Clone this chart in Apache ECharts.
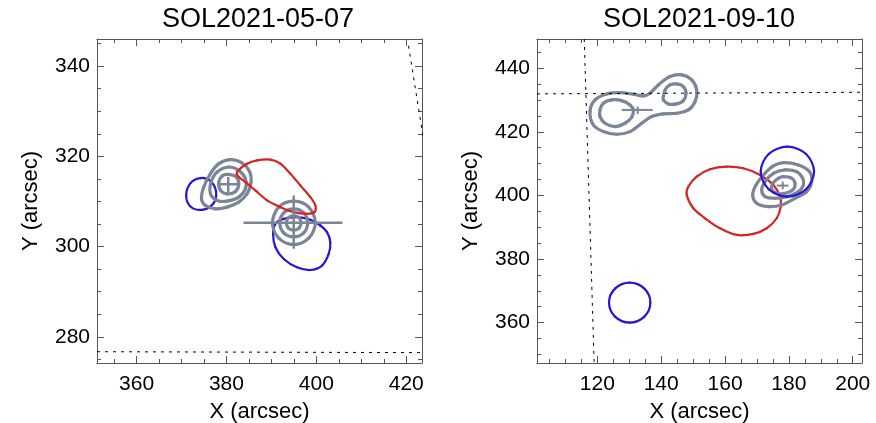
<!DOCTYPE html>
<html><head><meta charset="utf-8">
<script src="https://cdn.jsdelivr.net/npm/echarts@6/dist/echarts.min.js"></script>
<style>html,body{margin:0;padding:0;background:#fff}#c{width:876px;height:423px}</style>
</head><body><div id="c"></div><script>
// ---------- data ----------
const titles = ['SOL2021-05-07', 'SOL2021-09-10'];
const leftXRange = [351.2, 423.5];
const leftYRange = [274.2, 346.0];
const rightXRange = [101.1, 202.9];
const rightYRange = [347.3, 449.2];

const leftXTicks = [360, 380, 400, 420];
const leftYTicks = [280, 300, 320, 340];
const rightXTicks = [120, 140, 160, 180, 200];
const rightYTicks = [360, 380, 400, 420, 440];
const leftXMinor = [355,360,365,370,375,380,385,390,395,400,405,410,415,420];
const leftYMinor = [275,280,285,290,295,300,305,310,315,320,325,330,335,340,345];
const rightXMinor = [105,110,115,120,125,130,135,140,145,150,155,160,165,170,175,180,185,190,195,200];
const rightYMinor = [350,355,360,365,370,375,380,385,390,395,400,405,410,415,420,425,430,435,440,445];

// left panel (SOL2021-05-07)
const leftGrayA1 = [[380.89,319.26],[383.48,318.52],[385.19,316.52],[385.48,314.30],[384.59,311.70],[382.74,309.85],[380.15,308.74],[377.56,308.37],[375.33,309.11],[374.44,310.59],[374.96,313.19],[376.44,316.15],[378.30,318.37]];
const leftGrayA2 = [[380.52,317.63],[382.74,316.89],[384.22,315.04],[384.22,312.81],[382.74,310.96],[380.15,310.07],[377.93,310.22],[376.44,311.70],[376.59,314.30],[377.93,316.52]];
const leftGrayA3 = [[380.15,316.00],[382.00,315.56],[382.74,313.93],[382.00,312.22],[380.15,311.70],[378.67,312.44],[378.30,314.30],[379.04,315.63]];
const leftGrayB1 = [[394.96,310.07],[398.30,308.74],[399.78,305.26],[398.30,301.85],[394.96,300.44],[391.63,301.85],[390.22,305.26],[391.63,308.74]];
const leftGrayB2 = [[394.96,308.37],[397.19,307.48],[398.07,305.26],[397.19,303.04],[394.96,302.15],[392.74,303.04],[391.85,305.26],[392.74,307.48]];
const leftGrayB3 = [[394.96,306.89],[396.15,306.44],[396.59,305.26],[396.15,304.07],[394.96,303.63],[393.78,304.07],[393.33,305.26],[393.78,306.44]];
const leftRed = [[382.37,316.52],[384.59,318.37],[386.81,319.11],[389.78,319.26],[392.00,318.37],[394.22,316.15],[396.44,313.56],[398.67,310.96],[399.78,309.11],[399.56,307.63],[397.93,307.26],[394.96,307.63],[392.00,308.74],[389.04,310.22],[386.44,312.44],[384.22,314.30],[382.74,315.41]];
const leftBlue1 = [[374.22,315.19],[376.44,314.52],[377.70,312.07],[377.04,309.48],[374.59,308.15],[372.00,308.89],[371.04,311.33],[372.00,314.07]];
const leftBlue2 = [[392.74,306.15],[395.70,306.52],[398.67,305.93],[400.89,304.67],[402.37,303.19],[403.11,300.96],[402.74,298.37],[401.26,295.78],[398.67,294.81],[395.70,295.41],[392.74,297.26],[390.89,299.85],[390.37,302.81],[390.89,305.04]];
const leftCrossA_H = [[378.2,313.8],[382.7,313.8]];
const leftCrossA_V = [[380.4,312.1],[380.4,315.4]];
const leftCrossB_H = [[383.8,305.3],[405.8,305.3]];
const leftCrossB_V = [[394.96,299.5],[394.96,311.3]];
const leftDotH = [[351.2,276.7],[423.5,276.5]];
const leftDotD = [[420.5,344.5],[424.6,319.0]];

// right panel (SOL2021-09-10)
const rightGrayA1 = [[117.70,426.37],[119.27,430.04],[122.92,431.93],[127.10,432.35],[131.28,431.82],[134.41,431.30],[136.50,432.14],[139.11,434.76],[142.77,437.38],[146.42,437.90],[149.56,436.33],[151.12,433.18],[150.60,429.51],[148.51,426.89],[144.86,425.85],[140.68,425.64],[137.02,424.80],[133.89,422.70],[130.23,420.08],[126.06,419.24],[121.88,420.08],[118.75,422.18]];
const rightGrayA2 = [[120.84,426.89],[121.88,428.99],[124.49,430.04],[127.62,429.83],[130.23,428.47],[131.28,426.89],[130.76,424.59],[128.67,422.70],[125.54,421.65],[122.40,422.70],[120.84,424.80]];
const rightGrayA3 = [[140.68,431.09],[141.20,433.18],[142.77,434.76],[144.86,435.07],[146.95,434.23],[147.78,432.14],[146.95,429.83],[144.86,428.78],[142.25,428.78],[140.68,430.04]];
const rightGrayB1 = [[178.28,410.33],[182.98,409.59],[186.42,407.50],[187.15,404.35],[185.59,401.21],[181.93,399.11],[177.75,397.02],[173.58,396.49],[169.92,397.54],[168.67,400.16],[169.71,403.30],[172.53,406.97],[175.14,409.28]];
const rightGrayB2 = [[178.80,408.02],[182.45,407.50],[184.33,405.40],[184.54,403.30],[182.98,401.21],[179.32,399.63],[175.67,399.11],[172.53,399.63],[171.49,401.73],[172.53,404.35],[175.14,406.97]];
const rightGrayB3 = [[178.28,405.92],[180.89,405.40],[181.93,403.62],[181.20,401.73],[178.80,400.68],[176.19,400.68],[174.62,401.94],[175.14,404.04],[176.71,405.40]];
const rightRed = [[148.51,402.78],[151.12,405.92],[155.30,408.23],[160.52,409.07],[165.74,408.54],[170.97,406.45],[175.14,403.30],[177.23,399.63],[177.44,396.49],[176.19,392.82],[173.05,389.67],[168.88,387.89],[163.66,387.57],[158.43,389.67],[153.73,392.82],[150.08,395.96],[148.00,400.16]];
const rightBlue1 = [[179.53,415.36],[185.38,413.05],[187.89,407.50],[185.38,401.94],[179.53,399.63],[173.68,401.94],[171.17,407.50],[173.68,413.05]];
const rightBlue2 = [[130.13,372.58],[134.73,370.69],[136.61,366.29],[134.73,361.89],[130.13,360.00],[125.54,361.89],[123.66,366.29],[125.54,370.69]];
const rightCrossA_H = [[127.62,426.89],[137.34,426.89]];
const rightCrossA_V = [[132.64,427.94],[132.64,425.64]];
const rightCrossB_H = [[176.19,403.09],[179.84,403.09]];
const rightCrossB_V = [[178.07,404.35],[178.07,401.94]];
const rightDotV = [[115.9,449.2],[119.0,347.3]];
const rightDotH = [[101.1,431.93],[202.9,432.45]];

// ---------- styling ----------
const FONT = 'Liberation Sans, Arial, Helvetica, sans-serif';
const GRAY = '#7a8595', RED = '#d42323', BLUE = '#2a14d6', FRAME = '#555';

const grids = [
  {left: 97, top: 39, width: 325, height: 324, containLabel: false, outerBoundsMode: 'none'},
  {left: 537, top: 39, width: 325, height: 324, containLabel: false, outerBoundsMode: 'none'}
];

const xAxes = [], yAxes = [];
function addAxes(gi, xr, yr, xMaj, xMin, yMaj, yMin) {
  const base = {gridIndex: gi, type: 'value', splitLine: {show: false}};
  const line = {show: true, onZero: false, lineStyle: {color: FRAME, width: 1}};
  const xi = xAxes.length;
  xAxes.push(Object.assign({}, base, {min: xr[0], max: xr[1], position: 'bottom', axisLine: line,
    axisTick: {show: true, inside: true, length: 7, customValues: xMaj, lineStyle: {color: FRAME}},
    axisLabel: {show: true, customValues: xMaj, color: '#000', fontSize: 21, fontFamily: FONT, margin: 11},
    name: 'X (arcsec)', nameLocation: 'middle', nameGap: 38,
    nameTextStyle: {fontSize: 22, color: '#000', fontFamily: FONT}}));
  xAxes.push(Object.assign({}, base, {min: xr[0], max: xr[1], position: 'bottom', axisLine: {show: false},
    axisTick: {show: true, inside: true, length: 4, customValues: xMin, lineStyle: {color: FRAME}},
    axisLabel: {show: false}}));
  xAxes.push(Object.assign({}, base, {min: xr[0], max: xr[1], position: 'top', axisLine: line,
    axisTick: {show: true, inside: true, length: 7, customValues: xMaj, lineStyle: {color: FRAME}},
    axisLabel: {show: false}}));
  xAxes.push(Object.assign({}, base, {min: xr[0], max: xr[1], position: 'top', axisLine: {show: false},
    axisTick: {show: true, inside: true, length: 4, customValues: xMin, lineStyle: {color: FRAME}},
    axisLabel: {show: false}}));
  const yi = yAxes.length;
  yAxes.push(Object.assign({}, base, {min: yr[0], max: yr[1], position: 'left', axisLine: line,
    axisTick: {show: true, inside: true, length: 7, customValues: yMaj, lineStyle: {color: FRAME}},
    axisLabel: {show: true, customValues: yMaj, color: '#000', fontSize: 21, fontFamily: FONT, margin: 7},
    name: 'Y (arcsec)', nameLocation: 'middle', nameGap: 55,
    nameTextStyle: {fontSize: 22, color: '#000', fontFamily: FONT}}));
  yAxes.push(Object.assign({}, base, {min: yr[0], max: yr[1], position: 'left', axisLine: {show: false},
    axisTick: {show: true, inside: true, length: 4, customValues: yMin, lineStyle: {color: FRAME}},
    axisLabel: {show: false}}));
  yAxes.push(Object.assign({}, base, {min: yr[0], max: yr[1], position: 'right', axisLine: line,
    axisTick: {show: true, inside: true, length: 7, customValues: yMaj, lineStyle: {color: FRAME}},
    axisLabel: {show: false}}));
  yAxes.push(Object.assign({}, base, {min: yr[0], max: yr[1], position: 'right', axisLine: {show: false},
    axisTick: {show: true, inside: true, length: 4, customValues: yMin, lineStyle: {color: FRAME}},
    axisLabel: {show: false}}));
  return [xi, yi];
}
const [lx, ly] = addAxes(0, leftXRange, leftYRange, leftXTicks, leftXMinor, leftYTicks, leftYMinor);
const [rx, ry] = addAxes(1, rightXRange, rightYRange, rightXTicks, rightXMinor, rightYTicks, rightYMinor);

const series = [];
// closed contour drawn as a smooth loop through the traced points (pixel positions from api.coord)
function contour(pts, xi, yi, color, w) {
  series.push({
    type: 'custom', xAxisIndex: xi, yAxisIndex: yi, silent: true, animation: false, clip: true,
    data: [pts[0]],
    renderItem: function (params, api) {
      const p = pts.map(function (d) { return api.coord(d); });
      const n = p.length, children = [];
      for (let i = 0; i < n; i++) {
        const p0 = p[(i - 1 + n) % n], p1 = p[i], p2 = p[(i + 1) % n], p3 = p[(i + 2) % n];
        children.push({
          type: 'bezierCurve',
          shape: {
            x1: p1[0], y1: p1[1], x2: p2[0], y2: p2[1],
            cpx1: p1[0] + (p2[0] - p0[0]) / 6, cpy1: p1[1] + (p2[1] - p0[1]) / 6,
            cpx2: p2[0] - (p3[0] - p1[0]) / 6, cpy2: p2[1] - (p3[1] - p1[1]) / 6
          },
          style: {fill: 'none', stroke: color, lineWidth: w, lineCap: 'round'}
        });
      }
      return {type: 'group', children: children};
    }
  });
}
function seg(pts, xi, yi, color, w, dash) {
  series.push({
    type: 'line', xAxisIndex: xi, yAxisIndex: yi, data: pts, showSymbol: false, symbol: 'none',
    silent: true, animation: false, clip: true,
    lineStyle: {color: color, width: w, type: dash || 'solid'}
  });
}

// left panel
seg(leftDotH, lx, ly, '#000', 1, [3, 5]);
seg(leftDotD, lx, ly, '#000', 1, [3, 5]);
contour(leftBlue1, lx, ly, BLUE, 2.2);
contour(leftBlue2, lx, ly, BLUE, 2.2);
[leftGrayA1, leftGrayA2, leftGrayA3, leftGrayB1, leftGrayB2, leftGrayB3].forEach(function (c) { contour(c, lx, ly, GRAY, 3.2); });
seg(leftCrossA_H, lx, ly, GRAY, 2.5);
seg(leftCrossA_V, lx, ly, GRAY, 2.5);
seg(leftCrossB_H, lx, ly, GRAY, 2.5);
seg(leftCrossB_V, lx, ly, GRAY, 2.5);
contour(leftRed, lx, ly, RED, 2.2);

// right panel
seg(rightDotV, rx, ry, '#000', 1, [3, 5]);
seg(rightDotH, rx, ry, '#000', 1, [3, 5]);
contour(rightRed, rx, ry, RED, 2.2);
[rightGrayA1, rightGrayA2, rightGrayA3, rightGrayB1, rightGrayB2, rightGrayB3].forEach(function (c) { contour(c, rx, ry, GRAY, 3.2); });
seg(rightCrossA_H, rx, ry, GRAY, 2);
seg(rightCrossA_V, rx, ry, GRAY, 2);
seg(rightCrossB_H, rx, ry, GRAY, 2);
seg(rightCrossB_V, rx, ry, GRAY, 2);
contour(rightBlue1, rx, ry, BLUE, 2.2);
contour(rightBlue2, rx, ry, BLUE, 2.2);

const chart = echarts.init(document.getElementById('c'), null, {renderer: 'canvas'});
chart.setOption({
  animation: false,
  backgroundColor: '#fff',
  grid: grids,
  xAxis: xAxes,
  yAxis: yAxes,
  series: series,
  graphic: [
    {type: 'text', x: 258, y: 20, silent: true,
      style: {text: titles[0], font: '27px ' + FONT, fill: '#000', textAlign: 'center', textVerticalAlign: 'middle'}},
    {type: 'text', x: 699, y: 20, silent: true,
      style: {text: titles[1], font: '27px ' + FONT, fill: '#000', textAlign: 'center', textVerticalAlign: 'middle'}}
  ]
});
</script></body></html>
